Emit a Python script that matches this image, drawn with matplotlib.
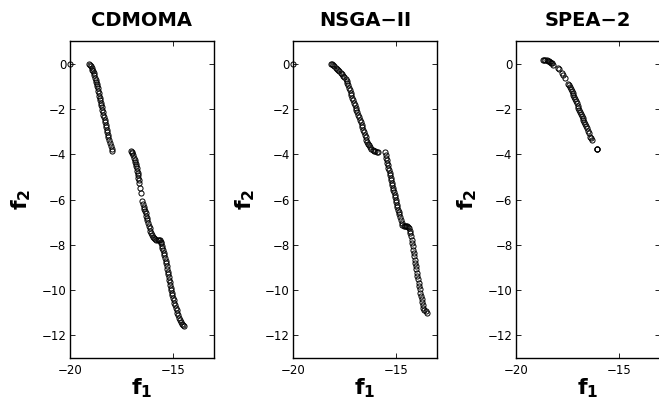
#!/usr/bin/env python3

import matplotlib
matplotlib.use("Agg")
from matplotlib import pyplot as plt

plt.rcParams["font.family"] = ["DejaVu Sans"]
plt.rcParams["mathtext.fontset"] = "dejavusans"

# Pareto fronts (f1, f2) found by each algorithm
cdmoma_f1 = [
	-20.00,
	-19.06, -19.02, -18.98, -18.94, -18.90, -18.87, -18.84, -18.81, -18.78, -18.75,
	-18.73, -18.70, -18.67, -18.65, -18.62, -18.60, -18.57, -18.55, -18.52, -18.50,
	-18.47, -18.45, -18.42, -18.40, -18.37, -18.34, -18.31, -18.29, -18.26, -18.24,
	-18.21, -18.19, -18.16, -18.13, -18.10, -18.06, -18.02, -17.97, -17.94,
	-17.03, -17.00, -16.96, -16.92, -16.88, -16.85, -16.82, -16.79, -16.77, -16.75,
	-16.73, -16.71, -16.69, -16.67, -16.65, -16.63, -16.58, -16.54, -16.47, -16.44,
	-16.41, -16.38, -16.35, -16.32, -16.29, -16.26, -16.23, -16.20, -16.16, -16.12,
	-16.08, -16.04, -16.00, -15.95, -15.90, -15.85, -15.79, -15.73, -15.68, -15.63,
	-15.59, -15.56, -15.53, -15.50, -15.47, -15.44, -15.41, -15.38, -15.35, -15.32,
	-15.30, -15.27, -15.25, -15.22, -15.20, -15.17, -15.15, -15.12, -15.10, -15.07,
	-15.05, -15.02, -14.99, -14.96, -14.93, -14.89, -14.85, -14.81, -14.77, -14.73,
	-14.69, -14.65, -14.60, -14.55, -14.50, -14.45,
]
cdmoma_f2 = [
	0.00,
	0.00, -0.05, -0.11, -0.18, -0.26, -0.33, -0.42, -0.52, -0.62, -0.71,
	-0.79, -0.89, -0.99, -1.09, -1.20, -1.30, -1.41, -1.51, -1.62, -1.72,
	-1.83, -1.93, -2.04, -2.14, -2.26, -2.37, -2.49, -2.59, -2.70, -2.81,
	-2.92, -3.03, -3.14, -3.26, -3.38, -3.50, -3.62, -3.76, -3.86,
	-3.86, -3.90, -3.96, -4.05, -4.16, -4.26, -4.35, -4.42, -4.52, -4.62,
	-4.72, -4.81, -4.92, -5.03, -5.15, -5.27, -5.47, -5.73, -6.08, -6.20,
	-6.31, -6.41, -6.50, -6.61, -6.71, -6.82, -6.92, -7.03, -7.15, -7.27,
	-7.38, -7.48, -7.56, -7.64, -7.70, -7.75, -7.78, -7.78, -7.77, -7.80,
	-7.86, -7.94, -8.04, -8.14, -8.25, -8.36, -8.46, -8.58, -8.70, -8.82,
	-8.94, -9.06, -9.18, -9.30, -9.42, -9.54, -9.66, -9.78, -9.89, -10.01,
	-10.12, -10.23, -10.34, -10.45, -10.56, -10.67, -10.78, -10.90, -11.02, -11.12,
	-11.22, -11.31, -11.40, -11.48, -11.55, -11.60,
]

nsga2_f1 = [
	-20.00,
	-18.18, -18.12, -18.06, -18.00, -17.94, -17.88, -17.82, -17.76, -17.70, -17.64,
	-17.58, -17.52, -17.46, -17.41, -17.37, -17.33, -17.29, -17.25, -17.21, -17.17,
	-17.13, -17.09, -17.05, -17.01, -16.97, -16.93, -16.89, -16.84, -16.80, -16.76,
	-16.72, -16.68, -16.64, -16.60, -16.56, -16.52, -16.48, -16.44, -16.40, -16.36,
	-16.32, -16.26, -16.20, -16.14, -16.08, -16.01, -15.94, -15.88,
	-15.54, -15.51, -15.48, -15.46, -15.43, -15.40, -15.37, -15.34, -15.31, -15.28,
	-15.26, -15.23, -15.20, -15.18, -15.15, -15.13, -15.10, -15.07, -15.05, -15.02,
	-14.99, -14.96, -14.94, -14.91, -14.88, -14.85, -14.81, -14.77, -14.73, -14.69,
	-14.64, -14.58, -14.53, -14.47, -14.42, -14.37, -14.34, -14.31, -14.28, -14.25,
	-14.22, -14.20, -14.17, -14.14, -14.12, -14.09, -14.06, -14.04, -14.01, -13.99,
	-13.96, -13.93, -13.91, -13.88, -13.85, -13.82, -13.79, -13.76, -13.73, -13.70,
	-13.67, -13.62, -13.57, -13.51,
]
nsga2_f2 = [
	0.00,
	0.00, -0.03, -0.07, -0.12, -0.18, -0.23, -0.28, -0.34, -0.40, -0.46,
	-0.53, -0.60, -0.69, -0.78, -0.87, -0.96, -1.06, -1.17, -1.28, -1.39,
	-1.50, -1.61, -1.72, -1.83, -1.94, -2.05, -2.15, -2.26, -2.37, -2.48,
	-2.59, -2.70, -2.81, -2.92, -3.03, -3.14, -3.25, -3.35, -3.45, -3.54,
	-3.61, -3.69, -3.76, -3.80, -3.84, -3.87, -3.89, -3.91,
	-3.91, -4.03, -4.15, -4.27, -4.38, -4.49, -4.60, -4.71, -4.82, -4.93,
	-5.04, -5.15, -5.26, -5.37, -5.48, -5.58, -5.69, -5.80, -5.91, -6.02,
	-6.13, -6.24, -6.35, -6.46, -6.56, -6.66, -6.77, -6.90, -7.02, -7.12,
	-7.15, -7.16, -7.16, -7.17, -7.20, -7.26, -7.38, -7.50, -7.63, -7.78,
	-7.92, -8.07, -8.21, -8.36, -8.50, -8.65, -8.79, -8.94, -9.08, -9.23,
	-9.38, -9.52, -9.67, -9.82, -9.96, -10.11, -10.25, -10.40, -10.53, -10.66,
	-10.77, -10.86, -10.93, -10.99,
]

spea2_f1 = [
	-18.67, -18.62, -18.57, -18.51, -18.46, -18.41, -18.35, -18.30, -18.25, -18.19,
	-17.94, -17.90, -17.78, -17.70, -17.62,
	-17.46, -17.42, -17.38, -17.34, -17.29, -17.25, -17.21, -17.17, -17.13, -17.09,
	-17.05, -17.01, -16.97, -16.93, -16.89, -16.84, -16.80, -16.76, -16.72, -16.68,
	-16.64, -16.60, -16.56, -16.51, -16.46, -16.40, -16.36, -16.32,
	-16.07, -16.07, -16.06,
]
spea2_f2 = [
	0.18, 0.17, 0.16, 0.14, 0.12, 0.10, 0.08, 0.05, 0.01, -0.04,
	-0.21, -0.25, -0.40, -0.50, -0.62,
	-0.88, -0.96, -1.04, -1.12, -1.20, -1.29, -1.38, -1.48, -1.57, -1.66,
	-1.75, -1.85, -1.94, -2.03, -2.12, -2.21, -2.30, -2.39, -2.48, -2.57,
	-2.66, -2.76, -2.85, -2.96, -3.08, -3.22, -3.29, -3.36,
	-3.76, -3.77, -3.76,
]

titles = ["CDMOMA", "NSGA\u2212II", "SPEA\u22122"]
fronts = [(cdmoma_f1, cdmoma_f2), (nsga2_f1, nsga2_f2), (spea2_f1, spea2_f2)]
x_ticks = [-20, -15]
y_ticks = [0, -2, -4, -6, -8, -10, -12]

fig = plt.figure(figsize=(6.59, 4.08), dpi=100)
lefts = [0.106, 0.445, 0.783]

for left, title, (f1, f2) in zip(lefts, titles, fronts):
	ax = fig.add_axes([left, 0.1225, 0.2185, 0.777])
	ax.plot(f1, f2, linestyle="none", marker="o", markersize=3.7,
		markerfacecolor="none", markeredgecolor="black", markeredgewidth=0.7,
		clip_on=False)
	ax.set_xlim(-20, -13)
	ax.set_ylim(-13, 1)
	ax.set_xticks(x_ticks)
	ax.set_yticks(y_ticks)
	ax.tick_params(direction="in", top=True, right=True, length=3.5, width=0.6,
		labelsize=8.5, colors="black")
	ax.tick_params(axis="x", pad=4)
	ax.tick_params(axis="y", pad=2.5)
	for s in ax.spines.values():
		s.set_linewidth(1.0)
	ax.set_title(title, fontsize=14, fontweight="bold", pad=11)
	ax.set_xlabel(r"$\mathbf{f_1}$", fontsize=16, labelpad=0)
	ax.set_ylabel(r"$\mathbf{f_2}$", fontsize=16, labelpad=6)

plt.savefig("out.png", dpi=100)
plt.close()
